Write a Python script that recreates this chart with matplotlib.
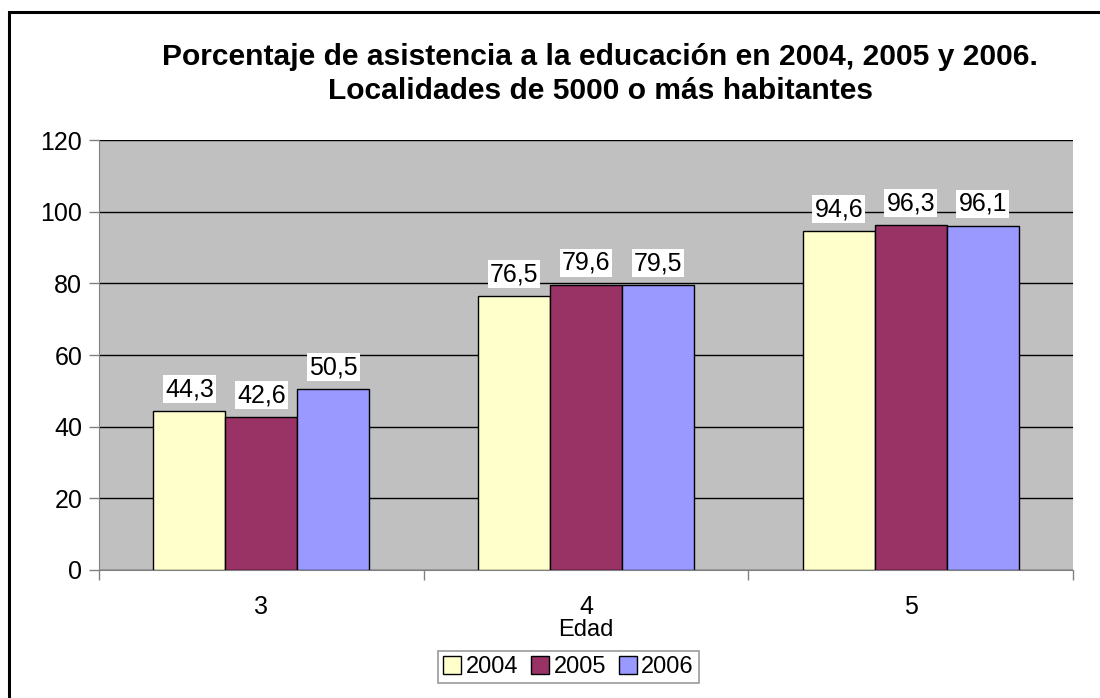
import numpy as np
import matplotlib.pyplot as plt
from matplotlib.patches import Rectangle

plt.rcParams['font.family'] = ['Liberation Sans', 'DejaVu Sans']

edades = ["3", "4", "5"]
anios = ["2004", "2005", "2006"]
v2004 = [44.3, 76.5, 94.6]
v2005 = [42.6, 79.6, 96.3]
v2006 = [50.5, 79.5, 96.1]
colores = ["#FFFFCC", "#993366", "#9999FF"]

fig = plt.figure(figsize=(11, 6.98), dpi=100)
ax = fig.add_axes([0.09, 0.1834, 0.8855, 0.616])

# marco exterior (solo se ven izquierda y arriba)
fig.patches.append(Rectangle((0.0082, -0.1), 1.2, 1.083, transform=fig.transFigure,
                             fill=False, edgecolor="black", linewidth=2.2))

x = np.arange(len(edades))
w = 0.2215
for i, (vals, c, lab) in enumerate(zip([v2004, v2005, v2006], colores, anios)):
    bars = ax.bar(x + (i - 1) * w, vals, w, color=c, edgecolor="black", linewidth=1, label=lab, zorder=3)
    for b, v in zip(bars, vals):
        ax.text(b.get_x() + b.get_width() / 2, v + 6.1, ("%.1f" % v).replace(".", ","),
                ha="center", va="center", fontsize=18,
                bbox=dict(facecolor="white", edgecolor="none", pad=1.5), zorder=4)

ax.set_facecolor("#C0C0C0")
ax.set_xlim(-0.5, 2.5)
ax.set_ylim(0, 120)
ax.set_yticks(range(0, 121, 20))
ax.yaxis.grid(True, color="black", linewidth=1, zorder=1)
ax.set_xticks([-0.5, 0.5, 1.5, 2.5])
ax.set_xticklabels([])
ax.set_xticks(x, minor=True)
ax.set_xticklabels(edades, minor=True, fontsize=18)
ax.tick_params(axis="x", which="minor", length=0, pad=18)
ax.tick_params(axis="x", which="major", length=7, color="gray", width=1)
ax.tick_params(axis="y", length=7, color="gray", width=1, labelsize=18, pad=5)
for s in ["top", "right"]:
    ax.spines[s].set_visible(False)
ax.spines["left"].set_color("gray")
ax.spines["bottom"].set_color("gray")
ax.set_xlabel("Edad", fontsize=17, labelpad=0)

fig.text(0.5455, 0.8937, "Porcentaje de asistencia a la educación en 2004, 2005 y 2006.\nLocalidades de 5000 o más habitantes",
         ha="center", va="center", fontsize=21.6, fontweight="bold", linespacing=1.3)

leg = ax.legend(loc="center", bbox_to_anchor=(0.482, -0.226), ncol=3, fontsize=17,
                frameon=True, fancybox=False, edgecolor="gray", handlelength=0.75, handleheight=0.75,
                handletextpad=0.2, columnspacing=0.55, borderpad=0.2, borderaxespad=0)
leg.get_frame().set_linewidth(1.2)

fig.savefig("out.png", dpi=100)
